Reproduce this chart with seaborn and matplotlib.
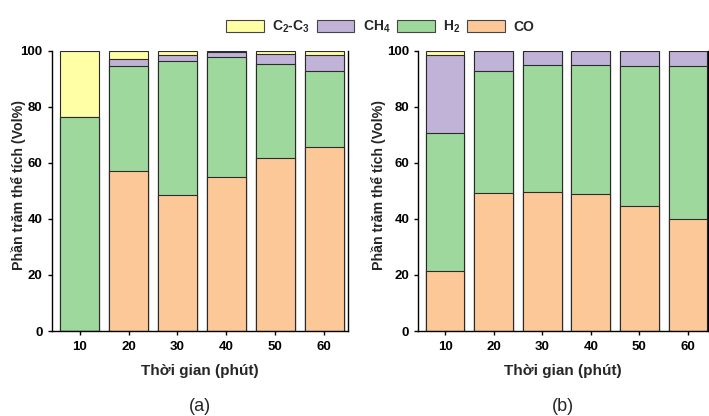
import numpy as np
import pandas as pd
import matplotlib
matplotlib.use("Agg")
import matplotlib.pyplot as plt
import seaborn as sns
from matplotlib.patches import Patch

sns.set_style("ticks")
plt.rcParams["font.family"] = ["Liberation Sans", "DejaVu Sans"]
plt.rcParams["font.weight"] = "bold"
plt.rcParams["mathtext.fontset"] = "custom"
plt.rcParams["mathtext.rm"] = "Liberation Sans:bold"
plt.rcParams["mathtext.bf"] = "Liberation Sans:bold"
plt.rcParams["mathtext.default"] = "bf"

# data (Vol%)
times = ["10", "20", "30", "40", "50", "60"]
a_co = [0.0, 57.1, 48.5, 55.0, 61.8, 65.6]
a_h2 = [76.2, 37.4, 47.8, 42.7, 33.4, 27.0]
a_ch4 = [0.0, 2.5, 2.2, 1.9, 3.6, 5.9]
a_c2 = [23.8, 3.0, 1.5, 0.4, 1.2, 1.5]

b_co = [21.5, 49.4, 49.6, 48.9, 44.6, 40.0]
b_h2 = [49.0, 43.5, 45.4, 46.0, 50.0, 54.4]
b_ch4 = [28.0, 6.9, 5.0, 5.1, 5.4, 5.6]
b_c2 = [1.5, 0.2, 0.0, 0.0, 0.0, 0.0]

gases = ["C$_2$-C$_3$", "CH$_4$", "H$_2$", "CO"]
colors = ["#FFFFA6", "#C1B2D8", "#9ED89C", "#FCC898"]

fig = plt.figure(figsize=(7.09, 4.16), dpi=100)
ax_a = fig.add_axes([0.0729, 0.2043, 0.4175, 0.6738])
ax_b = fig.add_axes([0.590, 0.2043, 0.4085, 0.6738])


def stacked(ax, co, h2, ch4, c2, xlim, lab_x):
    df = pd.DataFrame({"time": times, "CO": co, "H2": h2, "CH4": ch4, "C2": c2})
    # cumulative tops, drawn from the tallest layer down
    df["t_co"] = df["CO"]
    df["t_h2"] = df["t_co"] + df["H2"]
    df["t_ch4"] = df["t_h2"] + df["CH4"]
    df["t_c2"] = df["t_ch4"] + df["C2"]
    for col, c in zip(["t_c2", "t_ch4", "t_h2", "t_co"], colors):
        sns.barplot(data=df, x="time", y=col, color=c, saturation=1,
                    edgecolor="#2b2b2b", linewidth=0.8, width=0.8, ax=ax)
    ax.set_ylim(0, 100)
    ax.set_xlim(*xlim)
    ax.set_yticks([0, 20, 40, 60, 80, 100])
    ax.set_ylabel("Phần trăm thể tích (Vol%)", fontsize=10.2, fontweight="bold")
    ax.yaxis.set_label_coords(lab_x, 0.52)
    ax.set_xlabel("Thời gian (phút)", fontsize=11, fontweight="bold", labelpad=8)
    ax.tick_params(labelsize=9.5, length=3, width=1, colors="black")
    ax.tick_params(axis="x", pad=4)
    for lab in ax.get_xticklabels() + ax.get_yticklabels():
        lab.set_fontweight("bold")
    ax.spines["top"].set_visible(False)
    for s in ["left", "right", "bottom"]:
        ax.spines[s].set_color("black")
        ax.spines[s].set_linewidth(1.0)


stacked(ax_a, a_co, a_h2, a_ch4, a_c2, (-0.57, 5.48), -0.087)
stacked(ax_b, b_co, b_h2, b_ch4, b_c2, (-0.55, 5.41), -0.111)

fig.text(0.2817, 0.022, "(a)", ha="center", va="center", fontsize=13, fontweight="normal")
fig.text(0.7943, 0.022, "(b)", ha="center", va="center", fontsize=13, fontweight="normal")

handles = [Patch(facecolor=c, edgecolor="#444444", linewidth=0.8) for c in colors]
fig.legend(handles, gases, loc="center", bbox_to_anchor=(380 / 709, 1 - 27 / 416),
           ncol=4, frameon=False, handlelength=2.7, handleheight=0.9,
           handletextpad=0.6, columnspacing=0.5, prop={"weight": "bold", "size": 10})

fig.savefig("out.png", dpi=100)
